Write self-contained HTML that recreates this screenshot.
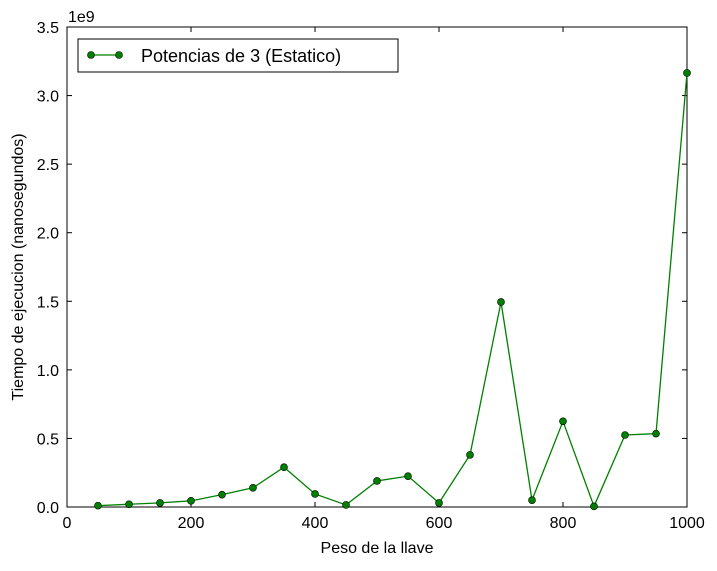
<!DOCTYPE html>
<html><head><meta charset="utf-8"><style>
body{margin:0;background:#fff;}
svg text{font-family:"Liberation Sans","DejaVu Sans",sans-serif;fill:#000;}
</style></head><body>
<svg id="chart" width="717" height="566"></svg>
<script>
const xValues=[50,100,150,200,250,300,350,400,450,500,550,600,650,700,750,800,850,900,950,1000];
const yValues=[0.01,0.02,0.03,0.045,0.09,0.14,0.29,0.095,0.015,0.19,0.225,0.03,0.38,1.495,0.05,0.625,0.005,0.525,0.535,3.165];
const xTicks=[0,200,400,600,800,1000];
const yTicks=[0,0.5,1.0,1.5,2.0,2.5,3.0,3.5];
const yTickLabels=["0.0","0.5","1.0","1.5","2.0","2.5","3.0","3.5"];
const seriesName="Potencias de 3 (Estatico)";

const L=67,R=687,T=27,B=507;
const sx=v=>L+(v-0)/1000*(R-L);
const sy=v=>B-(v/3.5)*(B-T);
const svg=document.getElementById('chart');
const NS='http://www.w3.org/2000/svg';
function mk(tag,attrs,parent){const e=document.createElementNS(NS,tag);for(const k in attrs)e.setAttribute(k,attrs[k]);(parent||svg).appendChild(e);return e;}

const frame=mk('rect',{x:L,y:T,width:R-L,height:B-T,fill:'#fff',stroke:'#000','stroke-width':1});



xTicks.forEach(v=>{
  const x=sx(v);
  const t1=mk('line',{x1:x,y1:B,x2:x,y2:B-5,stroke:'#000'});
  
  
  const t2=mk('line',{x1:x,y1:T,x2:x,y2:T+5,stroke:'#000'});
  
  
  const tx=mk('text',{x:x,y:B+21,'text-anchor':'middle','font-size':16});
  tx.textContent=v;
  
  
});
yTicks.forEach((v,i)=>{
  const y=sy(v);
  const t1=mk('line',{x1:L,y1:y,x2:L+5,y2:y,stroke:'#000'});
  
  
  const t2=mk('line',{x1:R,y1:y,x2:R-5,y2:y,stroke:'#000'});
  
  
  const tx=mk('text',{x:L-8,y:y+6,'text-anchor':'end','font-size':16});
  tx.textContent=yTickLabels[i];
  
  
});
const off=mk('text',{x:L+1,y:22,'font-size':16});
off.textContent='1e9';



const xt=mk('text',{x:(L+R)/2,y:553,'text-anchor':'middle','font-size':16});
xt.textContent='Peso de la llave';


const yt=mk('text',{x:0,y:0,'text-anchor':'middle','font-size':16,transform:`translate(23,${(T+B)/2}) rotate(-90)`});
yt.textContent='Tiempo de ejecucion (nanosegundos)';



const pts=xValues.map((v,i)=>sx(v)+','+sy(yValues[i])).join(' ');
const line=mk('polyline',{points:pts,fill:'none',stroke:'#008000','stroke-width':1.3});


xValues.forEach((v,i)=>{
  const c=mk('circle',{cx:sx(v),cy:sy(yValues[i]),r:3.5,fill:'#008000',stroke:'#000','stroke-width':0.6});
  
  
});

const lg=mk('g',{});


mk('rect',{x:78,y:39,width:320,height:33,fill:'#fff',stroke:'#000'},lg);
mk('line',{x1:89,y1:55,x2:121,y2:55,stroke:'#008000','stroke-width':1.3},lg);
mk('circle',{cx:91,cy:55,r:3.5,fill:'#008000',stroke:'#000','stroke-width':0.6},lg);
mk('circle',{cx:119,cy:55,r:3.5,fill:'#008000',stroke:'#000','stroke-width':0.6},lg);
const lt=mk('text',{x:141,y:62,'font-size':18},lg);
lt.textContent=seriesName;


</script>
</body></html>
